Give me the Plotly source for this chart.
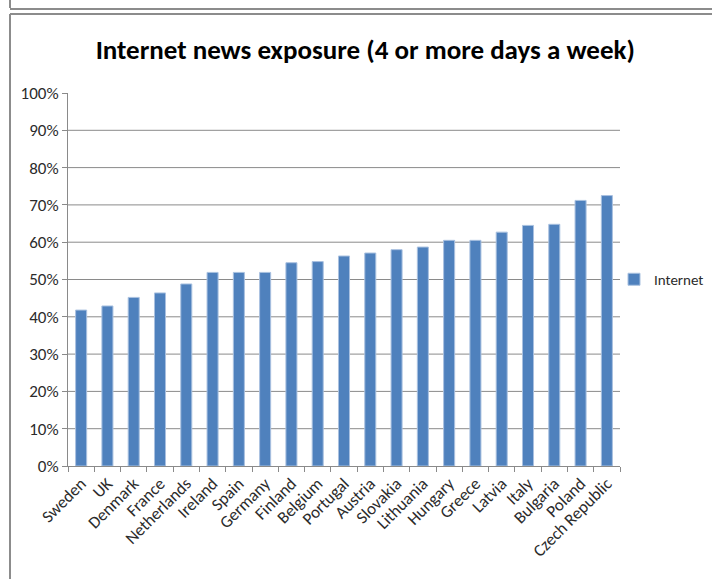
import plotly.graph_objects as go

countries = ["Sweden", "UK", "Denmark", "France", "Netherlands", "Ireland", "Spain",
             "Germany", "Finland", "Belgium", "Portugal", "Austria", "Slovakia",
             "Lithuania", "Hungary", "Greece", "Latvia", "Italy", "Bulgaria",
             "Poland", "Czech Republic"]
internet = [41.8, 42.9, 45.2, 46.4, 48.8, 51.9, 51.9, 51.9, 54.5, 54.8, 56.3,
            57.1, 58.0, 58.7, 60.5, 60.5, 62.7, 64.5, 64.8, 71.2, 72.5]
series_name = "Internet"
y_ticks = list(range(0, 101, 10))
y_tick_text = [f"{v}%" for v in y_ticks]
title_text = "Internet news exposure (4 or more days a week)"

W, H = 712, 579
ML, MR, MT, MB = 68, 92, 93, 113

FONT = "Carlito, Lato, 'Liberation Sans', sans-serif"
GRID = "#8a8a8a"
FRAME = "#8c8c8c"
TEXT = "#2b2b2b"

fig = go.Figure()
fig.add_trace(go.Bar(
    x=countries, y=internet, name=series_name,
    marker=dict(color="#4F81BD", line=dict(color="#A9C1E0", width=1)),
    showlegend=True,
))

# horizontal gridlines (none at the top edge)
shapes = []
for v in y_ticks[1:-1]:
    shapes.append(dict(type="line", xref="paper", yref="y", x0=0, x1=1, y0=v, y1=v,
                       line=dict(color=GRID, width=1), layer="below"))


def px_x(p):
    return (p - ML) / (W - ML - MR)


def px_y(p):
    return (H - MB - p) / (H - MT - MB)


# outer frame lines
frame = [
    (10, 0, 10, 8),
    (10, 9, W, 9),
    (10, 14, W, 14),
    (10, 14, 10, H),
]
for x0, y0, x1, y1 in frame:
    shapes.append(dict(type="line", xref="paper", yref="paper",
                       x0=px_x(x0), x1=px_x(x1), y0=px_y(y0), y1=px_y(y1),
                       line=dict(color=FRAME, width=2), layer="above"))

fig.update_layout(
    width=W, height=H,
    margin=dict(l=ML, r=MR, t=MT, b=MB, pad=0, autoexpand=False),
    paper_bgcolor="white", plot_bgcolor="white",
    bargap=0.58,
    font=dict(family=FONT, size=17, color=TEXT),
    title=dict(text="<b>" + title_text + "</b>", xref="container", x=0.513, xanchor="center",
               yref="container", y=1 - 50 / H, yanchor="middle",
               font=dict(family=FONT, size=27, color="#000000")),
    shapes=shapes,
    legend=dict(x=px_x(614), xanchor="left", y=0.5, yanchor="middle",
                font=dict(size=15, color=TEXT), bgcolor="rgba(0,0,0,0)",
                itemwidth=30),
    xaxis=dict(tickangle=-45, showline=True, linecolor=GRID, linewidth=1,
               ticks="outside", tickson="boundaries", ticklen=5, tickcolor=GRID,
               showgrid=False, automargin=False,
               tickfont=dict(size=17, color=TEXT)),
    yaxis=dict(range=[0, 100], tickvals=y_ticks, ticktext=y_tick_text, showgrid=False,
               showline=True, linecolor=GRID, linewidth=1, ticks="outside",
               ticklen=5, tickcolor=GRID, zeroline=False, automargin=False,
               tickfont=dict(size=17, color=TEXT)),
)

fig.write_html("out.html")
